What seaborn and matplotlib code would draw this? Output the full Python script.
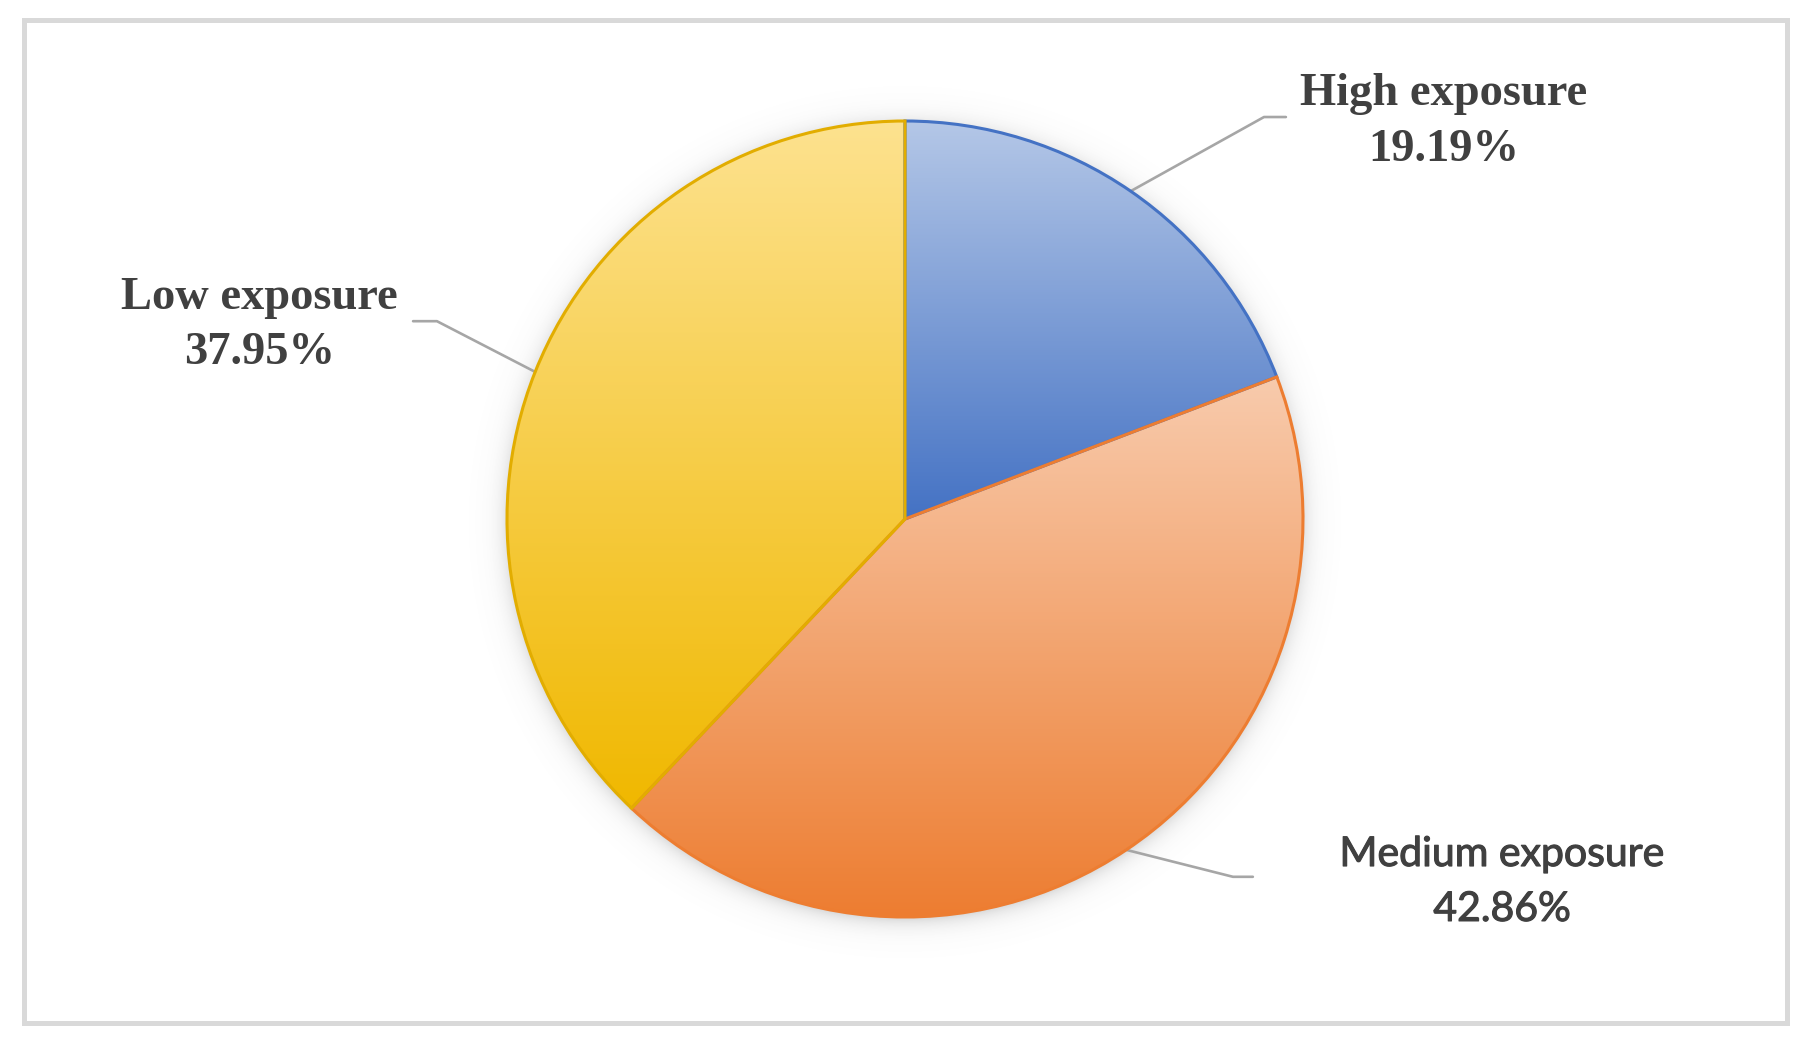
import numpy as np
import matplotlib
matplotlib.use("Agg")
import matplotlib.pyplot as plt
import matplotlib.patheffects as pe
from matplotlib.patches import Rectangle
import seaborn as sns

# ---- data ----
categories = ["High exposure", "Medium exposure", "Low exposure"]
shares = [19.19, 42.86, 37.95]
value_labels = ["19.19%", "42.86%", "37.95%"]

# ---- style ----
sns.set_theme(style="white")
top_colors = ["#b4c7e7", "#f8cbad", "#fde28f"]
bottom_colors = ["#4472c4", "#ed7d31", "#f0b800"]
edge_colors = ["#4472c4", "#ed7d31", "#e2ad00"]
text_color = "#404040"

W, H, DPI = 1813, 1044, 100
fig = plt.figure(figsize=(W / DPI, H / DPI), dpi=DPI)
fig.patch.set_facecolor("white")
ax = fig.add_axes([0, 0, 1, 1])

R_PX = 398.0
CX, CY = 905.0, 519.0

wedges, _ = ax.pie(shares, startangle=90, counterclock=False, radius=1.0,
                   wedgeprops=dict(linewidth=2.2, zorder=3))

ax.set_aspect("auto")
ax.set_xlim(-CX / R_PX, (W - CX) / R_PX)
ax.set_ylim(-(H - CY) / R_PX, CY / R_PX)
ax.axis("off")

# soft shadow
g = np.linspace(-1.12, 1.12, 700)
xx, yy = np.meshgrid(g, g)
rr = np.sqrt(xx ** 2 + (yy + 0.008) ** 2)
alpha = np.where(rr > 0.99, 0.34 * np.exp(-np.clip(rr - 0.99, 0, None) / 0.024), 0.34)
img = np.zeros(xx.shape + (4,))
img[..., :3] = 0.45
img[..., 3] = alpha
ax.imshow(img, extent=(-1.12, 1.12, -1.12, 1.12), origin="lower",
          zorder=0.5, interpolation="bilinear")

# gradient fills per slice
grad = np.linspace(0, 1, 256).reshape(-1, 1)
for w, tc, bc, ec in zip(wedges, top_colors, bottom_colors, edge_colors):
    cmap = sns.blend_palette([bc, tc], as_cmap=True)
    ext = w.get_path().get_extents(w.get_patch_transform())
    x0, y0, x1, y1 = ext.x0, max(ext.y0, -1.0), ext.x1, min(ext.y1, 1.0)
    im = ax.imshow(grad, extent=(x0, x1, y0, y1), origin="lower", cmap=cmap,
                   aspect="auto", zorder=1, interpolation="bicubic")
    im.set_clip_path(w)
    w.set_facecolor("none")
    w.set_edgecolor(ec)
    w.set_zorder(3)

ax.set_xlim(-CX / R_PX, (W - CX) / R_PX)
ax.set_ylim(-(H - CY) / R_PX, CY / R_PX)

# leader lines and labels
elbows = [(0.902, 1.010), (0.824, -0.899), (-1.176, 0.497)]
ends = [(0.957, 1.010), (0.874, -0.899), (-1.236, 0.497)]
label_xy = [(1.354, 1.069, 0.926), (1.50, -0.843, -0.981), (-1.621, 0.555, 0.418)]
fonts = [dict(family="Liberation Serif", weight="bold", size=33.5),
         dict(family="Lato", weight="normal", size=29.5),
         dict(family="Liberation Serif", weight="bold", size=33.5)]
effects = [None, [pe.withStroke(linewidth=0.8, foreground=text_color)], None]

cum = 0.0
for i, s in enumerate(shares):
    mid = np.deg2rad(90 - 3.6 * (cum + s / 2))
    cum += s
    sx, sy = np.cos(mid), np.sin(mid)
    ex, ey = elbows[i]
    tx, ty = ends[i]
    ax.plot([sx, ex, tx], [sy, ey, ty], color="#a6a6a6", lw=1.9,
            solid_joinstyle="round", zorder=2)
    lx, ly1, ly2 = label_xy[i]
    for yy_, txt in ((ly1, categories[i]), (ly2, value_labels[i])):
        t = ax.text(lx, yy_, txt, ha="center", va="center", color=text_color, **fonts[i])
        if effects[i]:
            t.set_path_effects(effects[i])

# outer frame
fig.patches.append(Rectangle((23.5 / W, 1 - 1022.5 / H), (1786.5 - 23.5) / W, (1022.5 - 19.5) / H,
                             transform=fig.transFigure, fill=False,
                             edgecolor="#d9d9d9", linewidth=3.6, zorder=10))

fig.savefig("out.png", dpi=DPI, facecolor="white")
